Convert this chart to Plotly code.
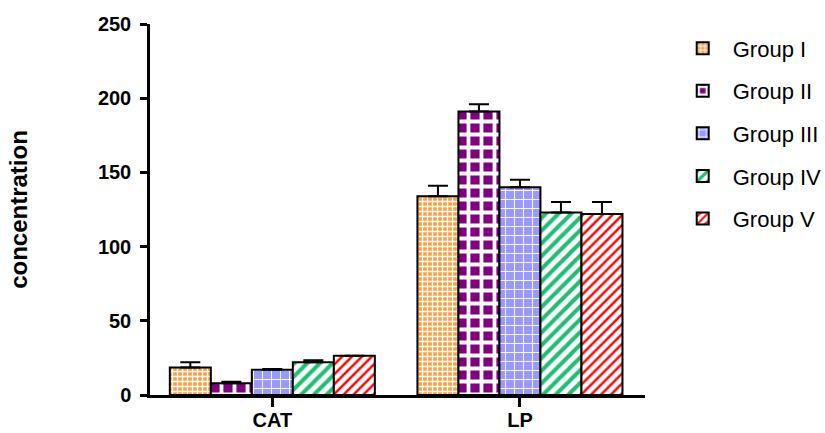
import plotly.graph_objects as go

categories = ["CAT", "LP"]
groups = ["Group I", "Group II", "Group III", "Group IV", "Group V"]

means = {
    "Group I": [18.5, 134],
    "Group II": [8, 191],
    "Group III": [17, 140],
    "Group IV": [22, 123],
    "Group V": [26.5, 122],
}
errors = {
    "Group I": [3.5, 7],
    "Group II": [1, 5],
    "Group III": [0.6, 5],
    "Group IV": [1.5, 7],
    "Group V": [0, 8],
}

# fill pattern per group: (shape, foreground, background, size, solidity)
patterns = {
    "Group I": ("+", "#ffffff", "#ffa040", 5, 0.45),
    "Group II": ("+", "#ffffff", "#800080", 13, 0.5),
    "Group III": ("+", "#ffffff", "#9999ff", 9, 0.2),
    "Group IV": ("/", "#1fbf73", "#ffffff", 9, 0.45),
    "Group V": ("/", "#ff0000", "#ffffff", 7, 0.35),
}

fig = go.Figure()
for g in groups:
    shape, fg, bg, size, sol = patterns[g]
    fig.add_trace(go.Bar(
        name=g,
        x=categories,
        y=means[g],
        legendgroup=g,
        marker=dict(
            color=bg,
            line=dict(color="black", width=2),
            pattern=dict(shape=shape, fgcolor=fg, bgcolor=bg, size=size,
                         solidity=sol, fillmode="replace"),
        ),
        error_y=dict(type="data", symmetric=False, array=errors[g],
                     arrayminus=[0] * len(categories),
                     color="black", thickness=2, width=10),
    ))

fig.update_layout(
    width=825, height=433,
    margin=dict(l=150, r=180, t=24, b=38, autoexpand=False),
    paper_bgcolor="white", plot_bgcolor="white",
    barmode="group", bargap=0.172, bargroupgap=0,
    font=dict(family="Arial", color="black"),
    showlegend=True,
    legend=dict(
        x=1.056, y=0.991, xanchor="left", yanchor="top",
        font=dict(family="Arial", size=22, color="black"),
        tracegroupgap=11, itemwidth=50, bgcolor="rgba(0,0,0,0)",
    ),
)

fig.update_xaxes(
    range=[-0.494, 1.505], automargin=False,
    showline=True, linecolor="black", linewidth=2.5,
    ticks="outside", ticklen=9, tickwidth=2.5, tickcolor="black",
    tickfont=dict(family="Arial", size=20, weight="bold", color="black"),
    ticklabelstandoff=-4,
    showgrid=False, zeroline=False,
)

fig.update_yaxes(
    range=[0, 250], tickvals=[0, 50, 100, 150, 200, 250], automargin=False,
    showline=True, linecolor="black", linewidth=2.5,
    ticks="outside", ticklen=7, tickwidth=2.5, tickcolor="black",
    tickfont=dict(family="Arial", size=20, weight="bold", color="black"),
    ticklabelstandoff=5,
    showgrid=False, zeroline=False,
    title=dict(text="concentration", standoff=64,
               font=dict(family="Arial", size=24, weight="bold", color="black")),
)

fig.write_html("out.html")
